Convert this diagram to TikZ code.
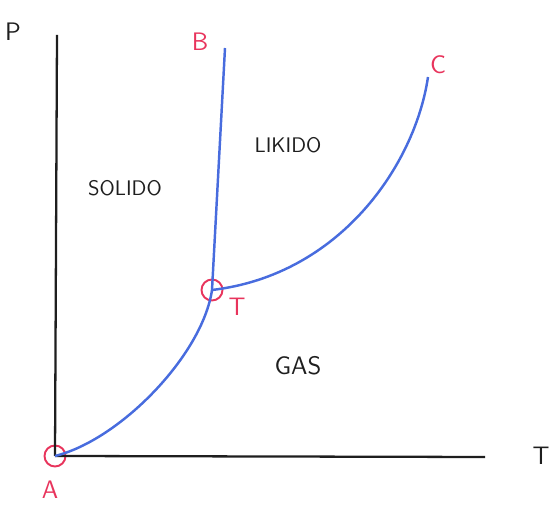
\documentclass[tikz,border=0pt]{standalone}
\usepackage{tikz}
\definecolor{penblue}{RGB}{72,108,222}
\definecolor{penred}{RGB}{232,52,92}
\definecolor{penblack}{RGB}{30,30,30}
\tikzset{
  axisline/.style={penblack,line width=1.3pt},
  phaseline/.style={penblue,line width=1.4pt},
  ptcircle/.style={draw=penred,line width=1.1pt,circle,minimum size=0.42cm,inner sep=0pt},
  redlabel/.style={text=penred,font=\sffamily\Large},
  axislabel/.style={text=penblack,font=\sffamily\Large},
  regionlabel/.style={text=penblack,font=\sffamily\large}
}
\begin{document}
\begin{tikzpicture}
\useasboundingbox (0.000,0.000) rectangle (11.140,10.200);
\coordinate (ptop) at (1.140,9.500);
\coordinate (tend) at (9.700,1.060);
\coordinate (bend) at (4.500,9.240);
\coordinate (cend) at (8.560,8.660);
\node[ptcircle] (A) at (1.100,1.080) {};
\node[ptcircle] (tp) at (4.240,4.400) {};
\draw[axisline] (A.center) -- (ptop);
\draw[axisline] (A.center) -- (tend);
% sublimacion
\draw[phaseline] (A.center) .. controls (2.400,1.400) and (4.050,3.100) .. (tp.center);
% fusion
\draw[phaseline] (tp.center) -- (bend);
% vaporizacion
\draw[phaseline] (tp.center) .. controls (6.800,4.700) and (8.300,6.900) .. (cend);
\node[axislabel] (plabel) at (0.260,9.560) {P};
\node[axislabel] (tlabel) at (10.820,1.080) {T};
\node[redlabel] (alabel) at (1.000,0.400) {A};
\node[redlabel] (tplabel) at (4.740,4.060) {T};
\node[redlabel] (blabel) at (4.000,9.360) {B};
\node[redlabel] (clabel) at (8.760,8.900) {C};
\node[regionlabel] (solido) at (2.500,6.440) {SOLIDO};
\node[regionlabel] (likido) at (5.760,7.300) {LIKIDO};
\node[regionlabel,font=\sffamily\Large] (gas) at (5.960,2.880) {GAS};
\end{tikzpicture}
\end{document}
